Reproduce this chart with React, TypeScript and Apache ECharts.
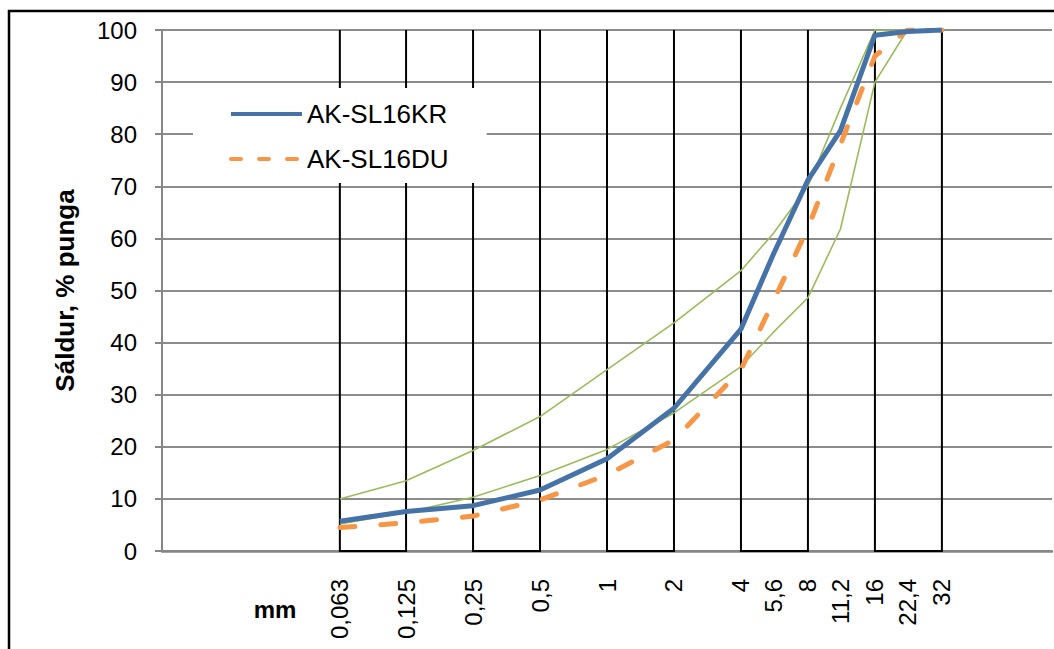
import React, { useEffect, useRef } from 'react';
import * as echarts from 'echarts';

// Sieve sizes (mm) and their printed labels
const sieveSizes = [0.063, 0.125, 0.25, 0.5, 1, 2, 4, 5.6, 8, 11.2, 16, 22.4, 32];
const sieveLabels = ['0,063', '0,125', '0,25', '0,5', '1', '2', '4', '5,6', '8', '11,2', '16', '22,4', '32'];

// Passing, %
const akSL16KR = [5.7, 7.6, 8.7, 11.7, 17.7, 27.4, 42.6, 57, 71.2, 80.7, 99, 99.7, 100];
const akSL16DU = [4.5, 5.4, 6.7, 9.8, 14.6, 21.3, 34.8, 48, 62, 78, 95, 100, 100];
const upperLimit = [10, 13.5, 19.3, 25.8, 34.8, 43.8, 53.8, 61, 70, 85, 100, 100, 100];
const lowerLimit = [5.2, 7.4, 10.3, 14.5, 19.5, 26.5, 35.4, 42, 48.6, 61.8, 90, 100, 100];

// Alternating sieve bands [from, to, bottom, top]
const bandFrom = [0.063, 0.25, 1, 4, 16];
const bandTo = [0.125, 0.5, 2, 8, 32];
const bandBottom = 0;
const bandTop = 100;

const FONT = '"Liberation Sans", Arial, sans-serif';

const pairs = (ys: number[]) => sieveSizes.map((x, i) => [x, ys[i]]);

export default function App() {
  const ref = useRef<HTMLDivElement>(null);
  useEffect(() => {
    if (!ref.current) return;
    const chart = echarts.init(ref.current, undefined, { renderer: 'svg' });
    const labelFor = (v: number) => {
      let best = 0;
      let bd = Infinity;
      sieveSizes.forEach((s, i) => {
        const d = Math.abs(Math.log(s) - Math.log(v));
        if (d < bd) { bd = d; best = i; }
      });
      return sieveLabels[best];
    };
    chart.setOption({
      animation: false,
      backgroundColor: '#fff',
      textStyle: { fontFamily: FONT },
      grid: { left: 162, top: 30, width: 890, height: 521, containLabel: false },
      legend: {
        data: [
          { name: 'AK-SL16KR', lineStyle: { width: 4 } },
          { name: 'AK-SL16DU', lineStyle: { width: 4, type: [10, 18], cap: 'round' } },
        ],
        orient: 'vertical',
        left: 193,
        top: 88,
        backgroundColor: '#fff',
        padding: [13, 38, 11, 36],
        itemWidth: 71,
        itemHeight: 24,
        itemGap: 19,
        itemStyle: { opacity: 0 },
        textStyle: { fontSize: 26, color: '#000', fontFamily: FONT },
        selectedMode: false,
        z: 10,
      },
      xAxis: {
        type: 'log',
        logBase: 2,
        min: 0.01,
        max: 100,
        axisLine: { show: true, lineStyle: { color: '#868686', width: 2.5 } },
        axisTick: { show: false },
        splitLine: { show: false },
        minorTick: { show: false },
        axisLabel: {
          customValues: sieveSizes,
          rotate: 90,
          margin: 28,
          fontSize: 24,
          color: '#000',
          fontFamily: FONT,
          formatter: (v: number) => labelFor(v),
        },
      },
      yAxis: {
        type: 'value',
        min: 0,
        max: 100,
        interval: 10,
        name: 'Sáldur, % punga',
        nameLocation: 'middle',
        nameRotate: 90,
        nameGap: 84,
        nameTextStyle: { fontSize: 26, fontWeight: 'bold', color: '#000', fontFamily: FONT },
        axisLine: { show: true, lineStyle: { color: '#868686', width: 2 } },
        axisTick: { show: true, length: 7, lineStyle: { color: '#868686', width: 2 } },
        splitLine: { show: true, lineStyle: { color: '#8c8c8c', width: 2 } },
        axisLabel: { fontSize: 24, color: '#000', margin: 25, fontFamily: FONT },
      },
      graphic: [
        {
          type: 'rect',
          shape: { x: 9, y: 11, width: 2000, height: 2000 },
          style: { fill: 'none', stroke: '#000', lineWidth: 2.5 },
          silent: true,
        },
        {
          type: 'text',
          x: 275,
          y: 609,
          style: {
            text: 'mm',
            fill: '#000',
            font: 'bold 24px "Liberation Sans", Arial, sans-serif',
            align: 'center',
            verticalAlign: 'middle',
          },
          silent: true,
        },
      ],
      series: [
        {
          type: 'custom',
          name: 'bands',
          z: 1,
          silent: true,
          encode: { x: [0, 1], y: [2, 3] },
          data: bandFrom.map((f, i) => [f, bandTo[i], bandBottom, bandTop]),
          renderItem: (_params: any, api: any) => {
            const x0 = api.value(0), x1 = api.value(1), y0 = api.value(2), y1 = api.value(3);
            const a = api.coord([x0, y1]);
            const b = api.coord([x0, y0]);
            const c = api.coord([x1, y0]);
            const d = api.coord([x1, y1]);
            return {
              type: 'polyline',
              shape: { points: [a, b, c, d] },
              style: { stroke: '#000', lineWidth: 2, fill: null },
            };
          },
        },
        {
          type: 'line',
          name: 'Ülempiir',
          z: 3,
          symbol: 'none',
          data: pairs(upperLimit),
          lineStyle: { color: '#9BBB59', width: 1.6 },
          itemStyle: { color: '#9BBB59' },
        },
        {
          type: 'line',
          name: 'Alampiir',
          z: 3,
          symbol: 'none',
          data: pairs(lowerLimit),
          lineStyle: { color: '#9BBB59', width: 1.6 },
          itemStyle: { color: '#9BBB59' },
        },
        {
          type: 'line',
          name: 'AK-SL16DU',
          z: 4,
          symbol: 'none',
          data: pairs(akSL16DU),
          lineStyle: { color: '#F79646', width: 5, type: [15, 26], cap: 'round' },
          itemStyle: { color: '#F79646' },
        },
        {
          type: 'line',
          name: 'AK-SL16KR',
          z: 5,
          symbol: 'none',
          data: pairs(akSL16KR),
          lineStyle: { color: '#4572A7', width: 5, join: 'round' },
          itemStyle: { color: '#4572A7' },
        },
      ],
    });
    return () => chart.dispose();
  }, []);
  return (
    <div
      ref={ref}
      style={{ position: 'fixed', left: 0, top: 0, width: 1054, height: 649, background: '#fff' }}
    />
  );
}
